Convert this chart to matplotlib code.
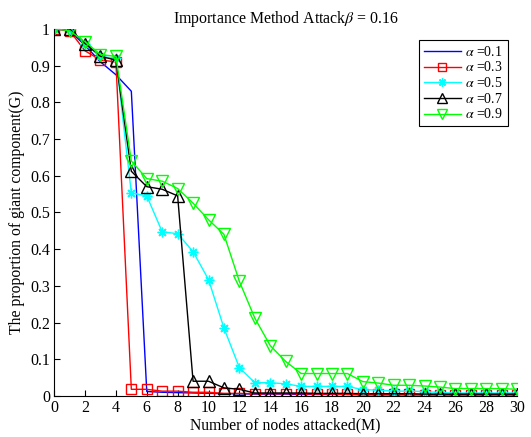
import numpy as np
import matplotlib
matplotlib.use('Agg')
import matplotlib.pyplot as plt

plt.rcParams['font.family'] = ['Liberation Serif', 'DejaVu Serif']
plt.rcParams['mathtext.fontset'] = 'stix'

# number of nodes attacked
m = np.arange(0, 31)

g_01 = [1.0, 0.995, 0.955, 0.91, 0.875, 0.83, 0.012, 0.01, 0.009, 0.008, 0.007,
        0.006, 0.006, 0.005, 0.005, 0.005, 0.004, 0.004, 0.004, 0.004, 0.003,
        0.003, 0.003, 0.003, 0.003, 0.003, 0.003, 0.003, 0.003, 0.003, 0.003]
g_03 = [1.0, 0.995, 0.94, 0.915, 0.91, 0.018, 0.018, 0.013, 0.013, 0.01, 0.01,
        0.007, 0.007, 0.006, 0.006, 0.006, 0.006, 0.005, 0.005, 0.004, 0.004,
        0.004, 0.004, 0.004, 0.003, 0.003, 0.003, 0.003, 0.003, 0.003, 0.003]
g_05 = [1.0, 1.0, 0.96, 0.925, 0.92, 0.553, 0.545, 0.447, 0.442, 0.393, 0.317,
        0.185, 0.077, 0.036, 0.036, 0.033, 0.026, 0.026, 0.026, 0.026, 0.017,
        0.016, 0.013, 0.013, 0.012, 0.009, 0.008, 0.008, 0.008, 0.008, 0.008]
g_07 = [1.0, 1.0, 0.96, 0.925, 0.915, 0.612, 0.57, 0.563, 0.545, 0.04, 0.04,
        0.022, 0.018, 0.008, 0.008, 0.008, 0.008, 0.007, 0.007, 0.007, 0.006,
        0.006, 0.006, 0.006, 0.005, 0.005, 0.005, 0.005, 0.005, 0.005, 0.005]
g_09 = [1.0, 0.995, 0.965, 0.93, 0.925, 0.64, 0.592, 0.585, 0.565, 0.525, 0.48,
        0.44, 0.312, 0.212, 0.137, 0.094, 0.061, 0.061, 0.061, 0.061, 0.039,
        0.035, 0.029, 0.029, 0.027, 0.024, 0.02, 0.02, 0.02, 0.02, 0.018]

fig = plt.figure(figsize=(5.31, 4.37), dpi=100)
ax = fig.add_axes([0.102, 0.094, 0.872, 0.84])

ax.plot(m, g_01, color='blue', lw=1, label=r'$\alpha$ =0.1')
ax.plot(m, g_03, color='red', lw=1, marker='s', ms=6.5, mfc='none',
        label=r'$\alpha$ =0.3')
ax.plot(m, g_05, color='cyan', lw=1, marker=(8, 2, 0), ms=7, mew=1,
        label=r'$\alpha$ =0.5')
ax.plot(m, g_07, color='black', lw=1, marker='^', ms=8, mfc='none',
        label=r'$\alpha$ =0.7')
ax.plot(m, g_09, color='lime', lw=1, marker='v', ms=9, mfc='none',
        label=r'$\alpha$ =0.9')

ax.set_xlim(0, 30)
ax.set_ylim(0, 1)
ax.set_xticks(np.arange(0, 31, 2))
ax.set_yticks(np.arange(0, 1.01, 0.1))
ax.set_yticklabels(['0', '0.1', '0.2', '0.3', '0.4', '0.5', '0.6', '0.7',
                    '0.8', '0.9', '1'])
ax.tick_params(direction='in', labelsize=11.5, length=4, pad=3)
ax.spines['top'].set_visible(False)
ax.spines['right'].set_visible(False)

ax.set_xlabel('Number of nodes attacked(M)', fontsize=11.3, labelpad=1)
ax.set_ylabel('The proportion of giant component(G)', fontsize=11.3)
ax.set_title(r'Importance Method Attack$\beta$ = 0.16', fontsize=11.4, pad=4)

leg = ax.legend(loc='upper right', bbox_to_anchor=(0.98, 0.97), fontsize=10,
                fancybox=False, edgecolor='black', framealpha=1,
                handlelength=2.7, borderpad=0.35, labelspacing=0.12,
                handletextpad=0.3, borderaxespad=0, markerscale=0.85)
leg.get_frame().set_linewidth(0.8)

fig.savefig('out.png', dpi=100)
